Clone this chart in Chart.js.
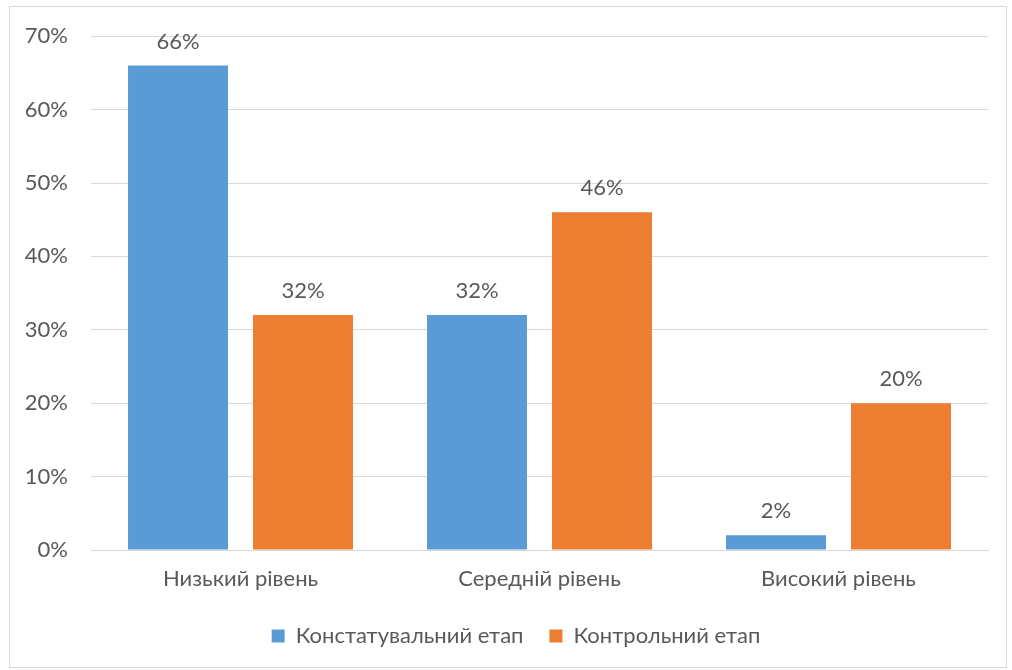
<!DOCTYPE html>
<html>
<head>
<meta charset="utf-8">
<script src="https://cdn.jsdelivr.net/npm/chart.js@4/dist/chart.umd.min.js"></script>
<style>
    html, body { margin: 0; padding: 0; background: #fff; }
    #wrap { position: relative; width: 1012px; height: 670px; }
    #frame { position: absolute; left: 9px; top: 6px; width: 998px; height: 662px; border: 1px solid #d9d9d9; box-sizing: border-box; pointer-events: none; }
</style>
</head>
<body>
<div id="wrap">
    <canvas id="chart" width="1012" height="670"></canvas>
    <div id="frame"></div>
</div>
<script>
// chart data
const categories = ['Низький рівень', 'Середній рівень', 'Високий рівень'];
const seriesNames = ['Констатувальний етап', 'Контрольний етап'];
const constatValues = [66, 32, 2];
const controlValues = [32, 46, 20];
const yTicks = [0, 10, 20, 30, 40, 50, 60, 70];

const textColor = '#595959';
const fontFamily = "Lato, 'Open Sans', sans-serif";
const fontSize = 22;

// simple value labels above each bar
const barLabels = {
    id: 'barLabels',
    afterDatasetsDraw(chart) {
        const ctx = chart.ctx;
        ctx.save();
        ctx.fillStyle = textColor;
        ctx.font = fontSize + 'px ' + fontFamily;
        ctx.textAlign = 'center';
        ctx.textBaseline = 'bottom';
        chart.data.datasets.forEach((ds, i) => {
            chart.getDatasetMeta(i).data.forEach((bar, j) => {
                ctx.fillText(ds.data[j] + '%', bar.x, bar.y - 13);
            });
        });
        ctx.restore();
    }
};

// nudge the legend a bit to the right, like the original
const legendShift = {
    id: 'legendShift',
    afterLayout(chart) {
        if (chart.legend) {
            chart.legend.left += 22;
            chart.legend.right += 22;
        }
    }
};

const config = {
    type: 'bar',
    data: {
        labels: categories,
        datasets: [
            { label: seriesNames[0], data: constatValues, backgroundColor: '#5B9BD5' },
            { label: seriesNames[1], data: controlValues, backgroundColor: '#ED7D31' }
        ]
    },
    options: {
        responsive: false,
        animation: false,
        categoryPercentage: 0.836,
        barPercentage: 0.8,
        layout: { padding: { left: 0, right: 24, top: 36, bottom: 13 } },
        plugins: {
            legend: {
                position: 'bottom',
                labels: {
                    color: textColor,
                    font: { size: fontSize, family: fontFamily },
                    boxWidth: 13,
                    boxHeight: 13,
                    padding: 26
                }
            },
            tooltip: { enabled: false }
        },
        scales: {
            x: {
                grid: { display: false, drawTicks: false },
                border: { color: '#d9d9d9', width: 1 },
                ticks: { color: textColor, font: { size: fontSize, family: fontFamily }, padding: 16 },
                afterFit(scale) { scale.height = 49; }
            },
            y: {
                min: 0,
                max: 70,
                afterBuildTicks(scale) { scale.ticks = yTicks.map(v => ({ value: v })); },
                grid: { color: '#d9d9d9', drawTicks: false },
                border: { display: false },
                ticks: {
                    color: textColor,
                    font: { size: fontSize, family: fontFamily },
                    padding: 23,
                    callback: v => v + '%'
                },
                afterFit(scale) { scale.width = 91; }
            }
        }
    },
    plugins: [barLabels, legendShift]
};

new Chart(document.getElementById('chart'), config);
</script>
</body>
</html>
